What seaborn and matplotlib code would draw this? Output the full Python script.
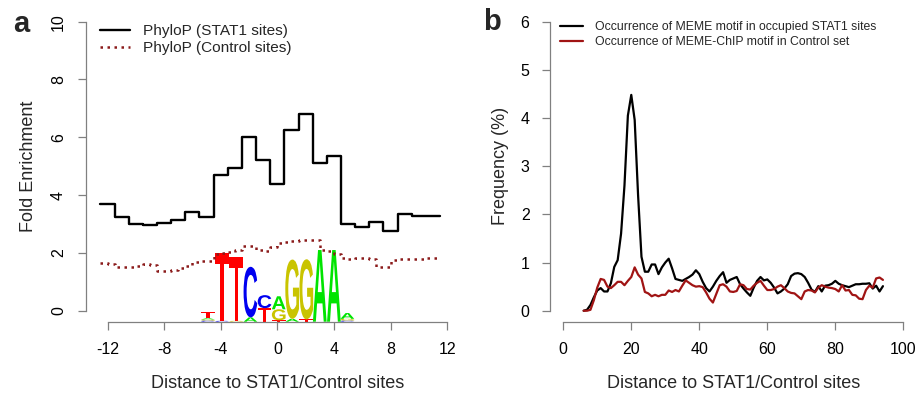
import numpy as np
import pandas as pd
import matplotlib
matplotlib.use("Agg")
import matplotlib.pyplot as plt
import matplotlib.transforms as mtransforms
from matplotlib.textpath import TextPath
from matplotlib.patches import PathPatch
from matplotlib.font_manager import FontProperties
import seaborn as sns

# ---- panel a: PhyloP fold enrichment (one bin per position, -12 .. 11)
stat1_pos = list(range(-12, 12))
stat1_fold = [3.68, 3.25, 2.99, 2.95, 3.05, 3.14, 3.43, 3.23, 4.69, 4.95, 6.00, 5.21,
              4.37, 6.25, 6.81, 5.11, 5.35, 3.00, 2.91, 3.08, 2.75, 3.36, 3.27, 3.29]

# control sites, half-position bins starting at -12.5
control_start = [-12.5 + 0.5 * i for i in range(48)]
control_fold = [1.64, 1.62, 1.53, 1.52, 1.53, 1.56, 1.61, 1.58, 1.38, 1.36, 1.40, 1.49,
                1.55, 1.70, 1.72, 1.73, 1.95, 1.99, 2.02, 2.10, 2.25, 2.24, 2.10, 2.07,
                2.20, 2.33, 2.39, 2.40, 2.44, 2.45, 2.43, 2.10, 2.07, 1.95, 1.84, 1.80,
                1.82, 1.82, 1.80, 1.52, 1.50, 1.76, 1.78, 1.78, 1.79, 1.80, 1.82, 1.84]

# sequence logo (letters bottom to top, heights in fold-enrichment units)
logo_pos = [-4.9, -3.9, -2.9, -1.9, -0.9, 0.1, 1.05, 2.05, 3.0, 4.0, 4.95]
logo_stacks = [
    [("C", 0.04), ("G", 0.04), ("A", 0.04), ("T", 0.2)],
    [("C", 0.03), ("T", 2.35)],
    [("G", 0.03), ("T", 2.2)],
    [("A", 0.15), ("C", 1.75)],
    [("T", 0.47), ("C", 0.45)],
    [("T", 0.05), ("G", 0.38), ("A", 0.45)],
    [("A", 0.1), ("G", 2.05)],
    [("T", 0.08), ("G", 2.08)],
    [("A", 2.48)],
    [("A", 2.48)],
    [("C", 0.04), ("G", 0.06), ("A", 0.2)],
]
letter_colors = {"A": "#00E400", "C": "#0000F0", "G": "#C9C400", "T": "#FF0000"}

# ---- panel b: motif occurrence frequency (%), positions 6 .. 94
freq_pos = list(range(6, 95))
meme_stat1 = [0.00, 0.02, 0.12, 0.28, 0.42, 0.47, 0.40, 0.40, 0.57, 0.91, 1.05, 1.60,
              2.60, 4.05, 4.48, 3.96, 2.40, 1.12, 0.81, 0.81, 0.96, 0.96, 0.76, 0.90,
              1.00, 1.08, 0.88, 0.66, 0.64, 0.62, 0.66, 0.70, 0.75, 0.84, 0.76, 0.60,
              0.47, 0.40, 0.50, 0.62, 0.72, 0.80, 0.58, 0.64, 0.67, 0.70, 0.55, 0.46,
              0.38, 0.31, 0.48, 0.62, 0.70, 0.63, 0.65, 0.58, 0.48, 0.36, 0.40, 0.46,
              0.55, 0.72, 0.77, 0.78, 0.76, 0.70, 0.58, 0.44, 0.39, 0.51, 0.40, 0.52,
              0.53, 0.56, 0.62, 0.56, 0.53, 0.51, 0.49, 0.52, 0.55, 0.55, 0.56, 0.56,
              0.57, 0.46, 0.52, 0.40, 0.51]
memechip_control = [0.00, 0.00, 0.02, 0.22, 0.48, 0.66, 0.64, 0.50, 0.47, 0.53, 0.60, 0.60,
                    0.53, 0.62, 0.70, 0.90, 0.75, 0.67, 0.39, 0.36, 0.30, 0.33, 0.30, 0.33,
                    0.33, 0.42, 0.39, 0.43, 0.40, 0.52, 0.63, 0.58, 0.53, 0.50, 0.51, 0.49,
                    0.38, 0.25, 0.17, 0.35, 0.53, 0.55, 0.50, 0.40, 0.39, 0.41, 0.55, 0.53,
                    0.45, 0.44, 0.52, 0.58, 0.62, 0.52, 0.43, 0.43, 0.45, 0.50, 0.53, 0.47,
                    0.40, 0.37, 0.36, 0.30, 0.24, 0.40, 0.43, 0.42, 0.38, 0.48, 0.53, 0.50,
                    0.48, 0.47, 0.45, 0.40, 0.53, 0.42, 0.43, 0.33, 0.32, 0.25, 0.24, 0.43,
                    0.52, 0.48, 0.67, 0.69, 0.64]

sns.set_style("ticks")
plt.rcParams["font.family"] = ["Liberation Sans", "DejaVu Sans"]
plt.rcParams["axes.unicode_minus"] = False

AXIS_GREY = "#808080"
DARK_RED = "#8B1A1A"
LOGO_FONT = FontProperties(family="Liberation Sans", weight="bold")


def draw_letter(ax, ch, x, y0, width, height, color):
    """Stretch a glyph into the box [x-w/2, x+w/2] x [y0, y0+h] (data units)."""
    tp = TextPath((0, 0), ch, size=1, prop=LOGO_FONT)
    bb = tp.get_extents()
    tr = (mtransforms.Affine2D()
          .translate(-bb.x0, -bb.y0)
          .scale(width / bb.width, height / bb.height)
          .translate(x - width / 2, y0))
    ax.add_patch(PathPatch(tr.transform_path(tp), facecolor=color,
                           edgecolor="none", lw=0, zorder=1))


def style_axis(ax, xb, yb):
    for side in ("top", "right"):
        ax.spines[side].set_visible(False)
    for side in ("left", "bottom"):
        ax.spines[side].set_color(AXIS_GREY)
        ax.spines[side].set_linewidth(0.9)
    ax.spines["bottom"].set_bounds(*xb)
    ax.spines["left"].set_bounds(*yb)
    ax.tick_params(direction="out", length=5.5, width=0.9, color=AXIS_GREY,
                   labelsize=11.5, labelcolor="black", pad=9,
                   bottom=True, left=True)


fig = plt.figure(figsize=(9.21, 3.93), dpi=100)
ax1 = fig.add_axes([0.0934, 0.1799, 0.4154, 0.7944])
ax2 = fig.add_axes([0.5968, 0.1799, 0.3988, 0.7944])

# panel a
stat1_df = pd.DataFrame({"x": [p - 0.5 for p in stat1_pos] + [stat1_pos[-1] + 0.5],
                         "y": stat1_fold + [stat1_fold[-1]]})
control_df = pd.DataFrame({"x": control_start + [control_start[-1] + 0.5],
                           "y": control_fold + [control_fold[-1]]})

base = -0.38
for pos, stack in zip(logo_pos, logo_stacks):
    y = base
    for ch, h in stack:
        draw_letter(ax1, ch, pos, y, 0.97, h, letter_colors[ch])
        y += h

sns.lineplot(data=stat1_df, x="x", y="y", ax=ax1, color="black", lw=1.7,
             drawstyle="steps-post", label="PhyloP (STAT1 sites)", zorder=3)
sns.lineplot(data=control_df, x="x", y="y", ax=ax1, color=DARK_RED, lw=1.8,
             drawstyle="steps-post", linestyle=(0, (1, 1.8)),
             label="PhyloP (Control sites)", zorder=3)

ax1.set_xlim(-13.52, 13.52)
ax1.set_ylim(-0.4, 10.4)
ax1.set_xticks(range(-12, 13, 4))
ax1.set_yticks(range(0, 11, 2))
style_axis(ax1, (-12, 12), (0, 10))
ax1.tick_params(axis="y", labelrotation=90, pad=9)
for lab in ax1.get_yticklabels():
    lab.set_va("center")
ax1.set_xlabel("Distance to STAT1/Control sites", fontsize=13, labelpad=13)
ax1.set_ylabel("Fold Enrichment", fontsize=13, labelpad=10)
ax1.legend(loc="upper left", bbox_to_anchor=(0.036, 0.955), frameon=False,
           fontsize=11.1, handlelength=1.95, handletextpad=0.85,
           labelspacing=0.2, borderpad=0, borderaxespad=0)

# panel b
freq_df = pd.DataFrame({"pos": freq_pos, "stat1": meme_stat1,
                        "control": memechip_control})
sns.lineplot(data=freq_df, x="pos", y="stat1", ax=ax2, color="black", lw=1.6,
             label="Occurrence of MEME motif in occupied STAT1 sites")
sns.lineplot(data=freq_df, x="pos", y="control", ax=ax2, color="#A01414", lw=1.6,
             label="Occurrence of MEME-ChIP motif in Control set")

ax2.set_xlim(-4, 104)
ax2.set_ylim(-0.24, 6.24)
ax2.set_xticks(range(0, 101, 20))
ax2.set_yticks(range(0, 7))
style_axis(ax2, (0, 100), (0, 6))
ax2.set_xlabel("Distance to STAT1/Control sites", fontsize=13, labelpad=13)
ax2.set_ylabel("Frequency (%)", fontsize=13, labelpad=8)
ax2.legend(loc="upper left", bbox_to_anchor=(0.028, 0.965), frameon=False,
           fontsize=8.8, handlelength=1.9, handletextpad=1.0,
           labelspacing=0.25, borderpad=0, borderaxespad=0)

fig.text(21 / 921, 1 - 24 / 393, "a", fontsize=21, fontweight="bold",
         ha="center", va="center")
fig.text(492 / 921, 1 - 22 / 393, "b", fontsize=21, fontweight="bold",
         ha="center", va="center")

fig.savefig("out.png", dpi=100)
